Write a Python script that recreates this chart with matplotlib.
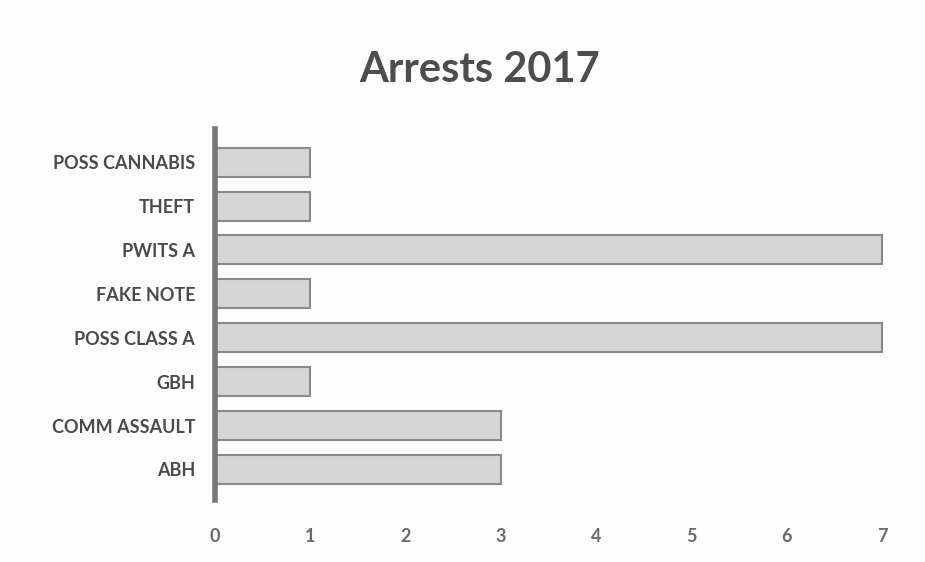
import matplotlib.pyplot as plt
import numpy as np

# arrest categories, top to bottom as in the chart
categories = ['POSS CANNABIS', 'THEFT', 'PWITS A', 'FAKE NOTE',
              'POSS CLASS A', 'GBH', 'COMM ASSAULT', 'ABH']
arrests = [1, 1, 7, 1, 7, 1, 3, 3]
x_ticks = [0, 1, 2, 3, 4, 5, 6, 7]

plt.rcParams['font.family'] = ['Lato', 'DejaVu Sans']

fig = plt.figure(figsize=(9.25, 5.62), dpi=100)
fig.patch.set_facecolor('#fdfdfd')
ax = fig.add_axes([0.232, 0.11, 0.727, 0.66])
ax.set_facecolor('#fdfdfd')

y = np.arange(len(categories))
ax.barh(y, arrests, height=0.66, color='#d6d6d6', edgecolor='#8a8a8a',
        linewidth=1.5)

ax.set_yticks(y)
ax.set_yticklabels(categories, fontsize=13, color='#4a4a4a',
                   fontweight='bold')
ax.invert_yaxis()
ax.set_ylim(len(categories) - 0.3, -0.75)

ax.set_xlim(0, 7.05)
ax.set_xticks(x_ticks)
ax.set_xticklabels([str(t) for t in x_ticks], fontsize=13,
                   color='#6a6a6a', fontweight='bold')
ax.tick_params(axis='both', length=0)
ax.tick_params(axis='x', pad=20)
ax.tick_params(axis='y', pad=14)

for s in ['top', 'right', 'bottom']:
    ax.spines[s].set_visible(False)
ax.spines['left'].set_color('#777777')
ax.spines['left'].set_linewidth(4)

fig.text(0.518, 0.875, 'Arrests 2017', ha='center', va='center',
         fontsize=30, fontweight='bold', color='#4d4d4d')

fig.savefig('out.png', dpi=100, facecolor=fig.get_facecolor())
